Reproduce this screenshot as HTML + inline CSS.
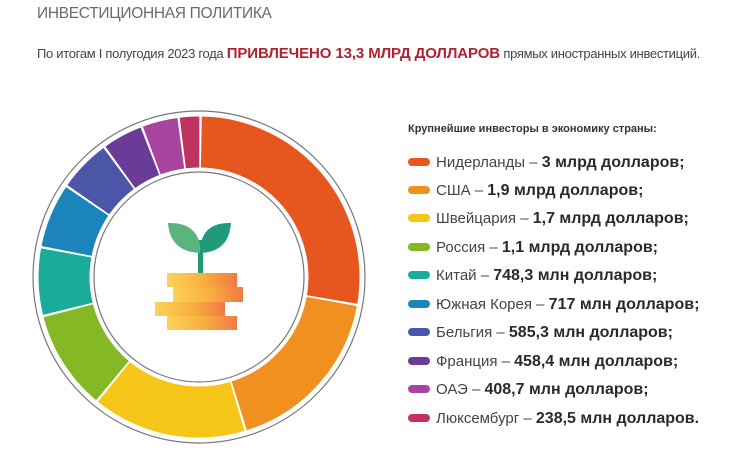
<!DOCTYPE html>
<html><head><meta charset="utf-8"><style>
body{margin:0;width:740px;height:460px;background:#fff;position:relative;overflow:hidden;font-family:"Liberation Sans",sans-serif}
.t{position:absolute;left:37px;top:5px;font-size:15.5px;color:#6a6a6a;letter-spacing:-0.3px}
.s{position:absolute;left:37px;top:45px;font-size:13px;color:#444;white-space:nowrap;letter-spacing:-0.3px}
.s b{color:#b5202e;font-size:15px;letter-spacing:-0.1px}
.h{position:absolute;left:408px;top:123px;font-size:11px;font-weight:bold;color:#333}
.r{position:absolute;left:408px;font-size:15px;color:#444;white-space:nowrap;height:20px;line-height:20px}
.r i{display:inline-block;width:22px;height:8px;border-radius:4px;margin-right:6px;vertical-align:1px}
.r b{color:#2a2a2a;font-size:16px}
</style></head><body>
<div class="t">ИНВЕСТИЦИОННАЯ ПОЛИТИКА</div>
<div class="s">По итогам I полугодия 2023 года <b>ПРИВЛЕЧЕНО 13,3 МЛРД ДОЛЛАРОВ</b> прямых иностранных инвестиций.</div>
<svg width="740" height="460" style="position:absolute;left:0;top:0">
<circle cx="199" cy="277" r="166" fill="none" stroke="#777" stroke-width="1.2"/>
<circle cx="199" cy="277" r="105" fill="none" stroke="#777" stroke-width="1.2"/>
<g transform="rotate(-89 199 277)" fill="none" stroke-width="51">
<circle cx="199" cy="277" r="135" pathLength="1085.55" stroke="#e8561f" stroke-dasharray="297.4 2000" stroke-dashoffset="0"/>
<circle cx="199" cy="277" r="135" pathLength="1085.55" stroke="#f0901f" stroke-dasharray="187.4 2000" stroke-dashoffset="-300"/>
<circle cx="199" cy="277" r="135" pathLength="1085.55" stroke="#f5c518" stroke-dasharray="167.4 2000" stroke-dashoffset="-490"/>
<circle cx="199" cy="277" r="135" pathLength="1085.55" stroke="#84b824" stroke-dasharray="107.4 2000" stroke-dashoffset="-660"/>
<circle cx="199" cy="277" r="135" pathLength="1085.55" stroke="#1aac98" stroke-dasharray="72.2 2000" stroke-dashoffset="-770"/>
<circle cx="199" cy="277" r="135" pathLength="1085.55" stroke="#1a84bb" stroke-dasharray="69.1 2000" stroke-dashoffset="-844.8"/>
<circle cx="199" cy="277" r="135" pathLength="1085.55" stroke="#4b56a8" stroke-dasharray="55.9 2000" stroke-dashoffset="-916.5"/>
<circle cx="199" cy="277" r="135" pathLength="1085.55" stroke="#6a3b97" stroke-dasharray="43.2 2000" stroke-dashoffset="-975"/>
<circle cx="199" cy="277" r="135" pathLength="1085.55" stroke="#a9449e" stroke-dasharray="38.3 2000" stroke-dashoffset="-1020.8"/>
<circle cx="199" cy="277" r="135" pathLength="1085.55" stroke="#c0335f" stroke-dasharray="21.2 2000" stroke-dashoffset="-1061.7"/>
</g>
<rect x="198" y="240" width="5" height="34" fill="#1f9a73"/>
<path d="M168 223 Q200 222 201 253 Q170 252 168 223Z" fill="#5ab47e"/>
<path d="M231 223 Q200 222 200 253 Q229 252 231 223Z" fill="#1f9a7a"/>
<defs><linearGradient id="g" x1="0" x2="1"><stop offset="0" stop-color="#fbd25a"/><stop offset="0.5" stop-color="#f8b23d"/><stop offset="1" stop-color="#f07a45"/></linearGradient></defs>
<rect x="167" y="273" width="70" height="14" fill="url(#g)"/>
<rect x="173" y="287" width="70" height="15" fill="url(#g)"/>
<rect x="155" y="302" width="70" height="14" fill="url(#g)"/>
<rect x="167" y="316" width="70" height="14" fill="url(#g)"/>
</svg>
<div class="h">Крупнейшие инвесторы в экономику страны:</div>
<div class="r" style="top:153px"><i style="background:#e8561f"></i>Нидерланды – <b>3 млрд долларов;</b></div>
<div class="r" style="top:181px"><i style="background:#f0901f"></i>США – <b>1,9 млрд долларов;</b></div>
<div class="r" style="top:209px"><i style="background:#f5c518"></i>Швейцария – <b>1,7 млрд долларов;</b></div>
<div class="r" style="top:238px"><i style="background:#84b824"></i>Россия – <b>1,1 млрд долларов;</b></div>
<div class="r" style="top:266px"><i style="background:#1aac98"></i>Китай – <b>748,3 млн долларов;</b></div>
<div class="r" style="top:295px"><i style="background:#1a84bb"></i>Южная Корея – <b>717 млн долларов;</b></div>
<div class="r" style="top:323px"><i style="background:#4b56a8"></i>Бельгия – <b>585,3 млн долларов;</b></div>
<div class="r" style="top:352px"><i style="background:#6a3b97"></i>Франция – <b>458,4 млн долларов;</b></div>
<div class="r" style="top:380px"><i style="background:#a9449e"></i>ОАЭ – <b>408,7 млн долларов;</b></div>
<div class="r" style="top:409px"><i style="background:#c0335f"></i>Люксембург – <b>238,5 млн долларов.</b></div>
</body></html>
